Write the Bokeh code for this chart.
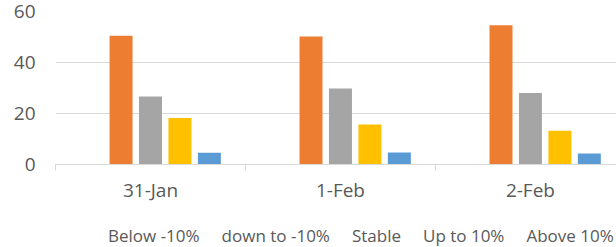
from bokeh.plotting import figure
from bokeh.models import ColumnDataSource, Range1d, FixedTicker, Legend, LegendItem
from bokeh.layouts import column
from bokeh.embed import file_html
from bokeh.resources import INLINE

dates = ["31-Jan", "1-Feb", "2-Feb"]
series_names = ["Below -10%", "down to -10%", "Stable", "Up to 10%", "Above 10%"]
below_m10 = [0, 0, 0]
down_to_m10 = [50.5, 50.2, 54.6]
stable = [26.7, 29.8, 28.0]
up_to_10 = [18.2, 15.7, 13.2]
above_10 = [4.6, 4.7, 4.3]
colors = ["#4472C4", "#ED7D31", "#A5A5A5", "#FFC000", "#5B9BD5"]
y_ticks = [0, 20, 40, 60]

all_series = [below_m10, down_to_m10, stable, up_to_10, above_10]

FONT = "Open Sans"
TXT = "#595959"

p = figure(width=616, height=205, output_backend="svg", toolbar_location=None,
           x_range=Range1d(0, 2.953), y_range=Range1d(0, 60),
           min_border_left=55, min_border_right=0, min_border_top=11, min_border_bottom=41)
p.outline_line_color = None
p.background_fill_color = "white"

# legend strip: swatches only (renderers hold no data)
pl = figure(width=616, height=42, output_backend="svg", toolbar_location=None,
            x_range=Range1d(0, 1), y_range=Range1d(0, 1),
            x_axis_location=None, y_axis_location=None,
            min_border_left=0, min_border_right=0, min_border_top=0, min_border_bottom=0)
pl.outline_line_color = None
pl.grid.visible = False

slot = 0.155
bw = 0.121
centers = [i + 0.5 for i in range(len(dates))]
items = []
for k, (name, vals, col) in enumerate(zip(series_names, all_series, colors)):
    xs = [c + (k - 2) * slot for c in centers]
    src = ColumnDataSource(dict(x=xs, top=vals))
    p.vbar(x="x", top="top", width=bw, bottom=0, source=src,
           fill_color=col, line_color=None)
    empty = ColumnDataSource(dict(x=[], top=[]))
    r2 = pl.vbar(x="x", top="top", width=bw, bottom=0, source=empty,
                 fill_color=col, line_color=None)
    items.append(LegendItem(label=name, renderers=[r2]))

# x axis
p.xaxis.ticker = FixedTicker(ticks=centers, minor_ticks=[0, 1, 2, 3])
p.xaxis.major_label_overrides = {c: d for c, d in zip(centers, dates)}
p.xaxis.major_tick_line_color = None
p.xaxis.major_tick_out = 0
p.xaxis.minor_tick_out = 6
p.xaxis.minor_tick_in = 0
p.xaxis.minor_tick_line_color = "#D9D9D9"
p.xaxis.axis_line_color = "#D9D9D9"
p.xaxis.major_label_text_font = FONT
p.xaxis.major_label_text_font_size = "19px"
p.xaxis.major_label_text_color = TXT
p.xaxis.major_label_standoff = 6
p.xgrid.grid_line_color = None

# y axis
p.yaxis.ticker = FixedTicker(ticks=y_ticks)
p.yaxis.axis_line_color = None
p.yaxis.major_tick_line_color = None
p.yaxis.minor_tick_line_color = None
p.yaxis.major_tick_out = 0
p.yaxis.major_label_text_font = FONT
p.yaxis.major_label_text_font_size = "19px"
p.yaxis.major_label_text_color = TXT
p.yaxis.major_label_standoff = 20
p.ygrid.grid_line_color = "#D9D9D9"
p.ygrid.grid_line_width = 1

legend = Legend(items=items, orientation="horizontal", location=(37, 0),
                glyph_width=9, glyph_height=9, label_standoff=7, spacing=6,
                padding=2, margin=0, border_line_color=None,
                background_fill_alpha=0,
                label_text_font=FONT, label_text_font_size="17px",
                label_text_color=TXT)
pl.add_layout(legend, "center")

layout = column(p, pl, spacing=0)
open("out.html", "w").write(file_html(layout, INLINE))
